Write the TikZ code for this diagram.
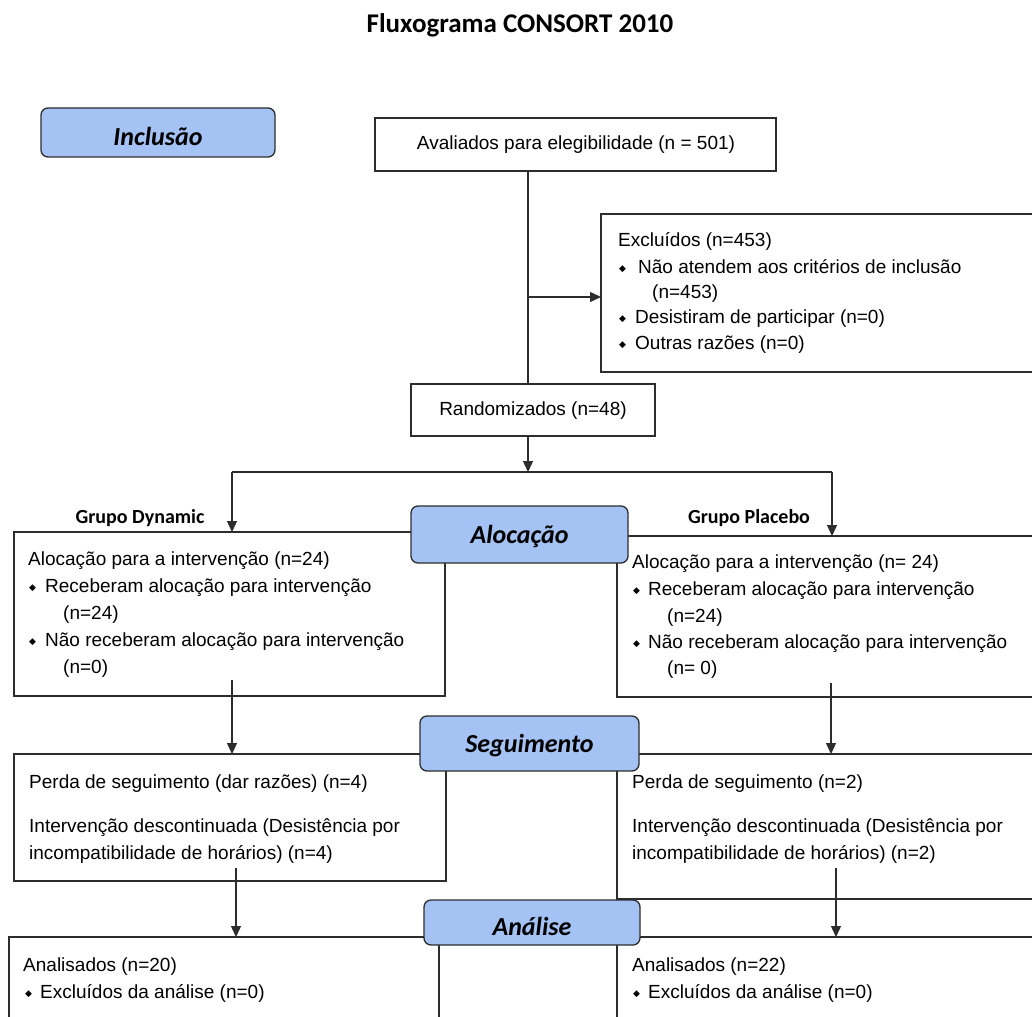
\documentclass[tikz,border=0pt]{standalone}
\usepackage{fontspec}
\setmainfont{Liberation Sans}
\newfontfamily\calibri{Carlito}
\newfontfamily\dejavu{DejaVu Sans}
\usetikzlibrary{arrows.meta}
\definecolor{phaseblue}{RGB}{164,194,244}
\definecolor{linecol}{RGB}{45,45,45}
\newcommand\bul[1]{\makebox[#1][l]{\raisebox{1.5pt}{\dejavu\fontsize{9}{9}\selectfont ◆}}}
\newcommand\lowr[2]{\raisebox{-#1}[\height][\depth]{#2}}
\begin{document}
\begin{tikzpicture}[x=1pt,y=-1pt,
  box/.style={draw=linecol, line width=1.3pt, fill=white, rectangle, inner sep=0pt, outer sep=0pt, anchor=north west},
  phase/.style={draw=linecol, line width=1.3pt, fill=phaseblue, rounded corners=7pt, rectangle, inner sep=0pt, outer sep=0pt, anchor=north west, font=\calibri\bfseries\itshape\fontsize{26}{26}\selectfont},
  txt/.style={anchor=base west, inner sep=0pt, font=\fontsize{19}{22}\selectfont},
  grp/.style={inner sep=0pt, font=\calibri\bfseries\fontsize{20}{20}\selectfont},
  ln/.style={draw=linecol, line width=1.3pt},
  arr/.style={draw=linecol, line width=1.3pt, -{Triangle[length=11pt,width=10pt]}}]
\useasboundingbox (0,0) rectangle (1032,1016);
\fill[white] (0,0) rectangle (1032,1016);
\clip (0,0) rectangle (1032,1016);

% title
\node[font=\calibri\bfseries\fontsize{27}{27}\selectfont, inner sep=0pt] (title) at (520,25) {Fluxograma CONSORT 2010};

% white boxes
\node[box, minimum width=401pt, minimum height=53pt] (aval) at (375,118) {};
\node[box, minimum width=444pt, minimum height=158pt] (excl) at (601,214) {};
\node[box, minimum width=244pt, minimum height=52pt] (rand) at (411,384) {};
\node[box, minimum width=431pt, minimum height=164pt] (dynA) at (14,532) {};
\node[box, minimum width=428pt, minimum height=161pt] (placA) at (617,536) {};
\node[box, minimum width=432pt, minimum height=127pt] (dynS) at (14,754) {};
\node[box, minimum width=428pt, minimum height=145pt] (placS) at (617,754) {};
\node[box, minimum width=430pt, minimum height=100pt] (dynN) at (9,937) {};
\node[box, minimum width=428pt, minimum height=100pt] (placN) at (617,937) {};

% phase boxes
\node[phase, minimum width=234pt, minimum height=49pt] (incl) at (41,108) {\lowr{4pt}{Inclusão}};
\node[phase, minimum width=217pt, minimum height=57pt] (aloc) at (411,506) {\lowr{2pt}{Alocação}};
\node[phase, minimum width=219pt, minimum height=55pt] (seg) at (420,716) {\lowr{2pt}{Seguimento}};
\node[phase, minimum width=216pt, minimum height=45pt] (anal) at (424,900) {\lowr{4pt}{Análise}};

% box texts
\node[txt, anchor=center] (tAval) at (576,145) {Avaliados para elegibilidade (n = 501)};
\node[txt, anchor=center] (tRand) at (533,411) {Randomizados (n=48)};

\node[txt] (e1) at (618,246) {Excluídos (n=453)};
\node[txt] (e2) at (619,273) {\bul{19pt}Não atendem aos critérios de inclusão};
\node[txt] (e3) at (652,298) {(n=453)};
\node[txt] (e4) at (619,323) {\bul{16pt}Desistiram de participar (n=0)};
\node[txt] (e5) at (619,349) {\bul{16pt}Outras razões (n=0)};

\node[grp] (gDyn) at (140,518) {Grupo Dynamic};
\node[grp] (gPla) at (749,518) {Grupo Placebo};

\node[txt] (d1) at (28,565) {Alocação para a intervenção (n=24)};
\node[txt] (d2) at (29,592) {\bul{16pt}Receberam alocação para intervenção};
\node[txt] (d3) at (63,619) {(n=24)};
\node[txt] (d4) at (29,646) {\bul{16pt}Não receberam alocação para intervenção};
\node[txt] (d5) at (63,673) {(n=0)};

\node[txt] (p1) at (632,568) {Alocação para a intervenção (n= 24)};
\node[txt] (p2) at (633,595) {\bul{15pt}Receberam alocação para intervenção};
\node[txt] (p3) at (667,622) {(n=24)};
\node[txt] (p4) at (633,648) {\bul{15pt}Não receberam alocação para intervenção};
\node[txt] (p5) at (667,674) {(n= 0)};

\node[txt] (s1) at (29,788) {Perda de seguimento (dar razões) (n=4)};
\node[txt] (s2) at (29,832) {Intervenção descontinuada (Desistência por};
\node[txt] (s3) at (29,859) {incompatibilidade de horários) (n=4)};

\node[txt] (q1) at (632,788) {Perda de seguimento (n=2)};
\node[txt] (q2) at (632,832) {Intervenção descontinuada (Desistência por};
\node[txt] (q3) at (632,859) {incompatibilidade de horários) (n=2)};

\node[txt] (a1) at (23,971) {Analisados (n=20)};
\node[txt] (a2) at (25,998) {\bul{15pt}Excluídos da análise (n=0)};
\node[txt] (b1) at (632,971) {Analisados (n=22)};
\node[txt] (b2) at (633,998) {\bul{15pt}Excluídos da análise (n=0)};

% connectors
\coordinate (cx) at (528,0);
\coordinate (exArr) at (528,297);
\coordinate (split) at (528,472);
\coordinate (sL) at (232,472);
\coordinate (sR) at (832,472);
\coordinate (dA) at (232,680);
\coordinate (pA) at (831,683);
\coordinate (dS) at (236,868);
\coordinate (pS) at (836,868);

\draw[ln] (aval.south -| cx) -- (rand.north -| cx);
\draw[arr] (exArr) -- (exArr -| excl.west);
\draw[arr] (rand.south -| cx) -- (split);
\draw[ln] (sL) -- (sR);
\draw[arr] (sL) -- (sL |- dynA.north);
\draw[arr] (sR) -- (sR |- placA.north);
\draw[arr] (dA) -- (dA |- dynS.north);
\draw[arr] (pA) -- (pA |- placS.north);
\draw[arr] (dS) -- (dS |- dynN.north);
\draw[arr] (pS) -- (pS |- placN.north);
\end{tikzpicture}
\end{document}
